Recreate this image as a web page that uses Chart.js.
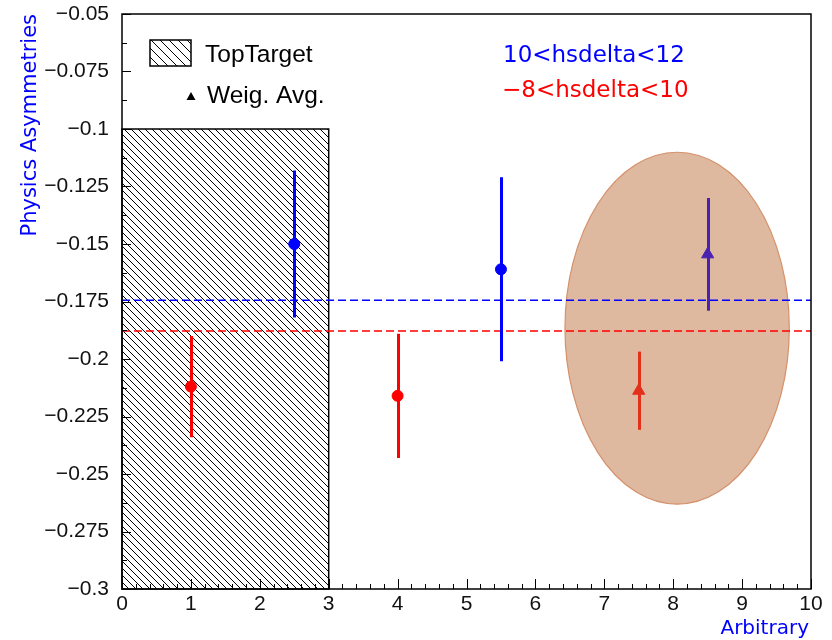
<!DOCTYPE html>
<html>
<head>
<meta charset="utf-8">
<script src="https://cdn.jsdelivr.net/npm/chart.js@4.4.0/dist/chart.umd.min.js"></script>
<style>
  body { margin: 0; background: #fff; }
  canvas { display: block; }
</style>
</head>
<body>
<canvas id="asym-chart" width="832" height="640"></canvas>
<script>
// measurements: 10<hsdelta<12 (blue) and -8<hsdelta<10 (red)
const blueX = [2.5, 5.5];
const blueY = [-0.150, -0.161];
const blueErr = [0.032, 0.040];

const redX = [1, 4];
const redY = [-0.212, -0.216];
const redErr = [0.022, 0.027];

// weighted averages
const avgX = [8.5, 7.5];
const avgY = [-0.1545, -0.2138];
const avgErr = [0.0245, 0.017];

// reference levels
const blueLevel = -0.1745;
const redLevel = -0.1878;

// TopTarget region and the highlight ellipse
const targetX = [0, 3];
const targetY = [-0.3, -0.1];
const ellipseC = [8.057, -0.1866];
const ellipseR = [1.628, 0.0765];

const xTicks = [0, 1, 2, 3, 4, 5, 6, 7, 8, 9, 10];
const yTicks = [-0.3, -0.275, -0.25, -0.225, -0.2, -0.175, -0.15, -0.125, -0.1, -0.075, -0.05];

const BLUE = "#0000ff";
const RED = "#ff0000";
const AVG_BLUE = "#4a22b0";
const AVG_RED = "#e2301a";

const ctxEl = document.getElementById("asym-chart");

const toPts = (xs, ys) => xs.map((x, i) => ({ x: x, y: ys[i] }));
const level = (v) => [{ x: xTicks[0], y: v }, { x: xTicks[xTicks.length - 1], y: v }];

function hatch(ctx, left, top, w, h, step) {
  ctx.save();
  ctx.beginPath();
  ctx.rect(left, top, w, h);
  ctx.clip();
  ctx.strokeStyle = "#000";
  ctx.lineWidth = 1;
  ctx.beginPath();
  for (let s = left - h; s < left + w; s += step) {
    ctx.moveTo(s, top);
    ctx.lineTo(s + h, top + h);
  }
  ctx.stroke();
  ctx.restore();
  ctx.strokeStyle = "#000";
  ctx.lineWidth = 1.5;
  ctx.strokeRect(left, top, w, h);
}

function errBars(ctx, x, y, xs, ys, errs, color) {
  ctx.strokeStyle = color;
  ctx.lineWidth = 3;
  ctx.beginPath();
  xs.forEach((v, i) => {
    const px = Math.round(x.getPixelForValue(v)) + 0.5;
    ctx.moveTo(px, y.getPixelForValue(ys[i] + errs[i]));
    ctx.lineTo(px, y.getPixelForValue(ys[i] - errs[i]));
  });
  ctx.stroke();
}

const decorations = {
  id: "decorations",
  beforeDatasetsDraw(chart) {
    const { ctx, scales: { x, y } } = chart;
    ctx.save();
    // hatched TopTarget box
    const l = x.getPixelForValue(targetX[0]), r = x.getPixelForValue(targetX[1]);
    const t = y.getPixelForValue(targetY[1]), b = y.getPixelForValue(targetY[0]);
    hatch(ctx, l, t, r - l, b - t, 7);

    // ellipse
    const cx = x.getPixelForValue(ellipseC[0]);
    const cy = y.getPixelForValue(ellipseC[1]);
    const rx = x.getPixelForValue(ellipseC[0] + ellipseR[0]) - cx;
    const ry = cy - y.getPixelForValue(ellipseC[1] + ellipseR[1]);
    ctx.beginPath();
    ctx.ellipse(cx, cy, rx, ry, 0, 0, Math.PI * 2);
    ctx.fillStyle = "#dfb8a0";
    ctx.fill();
    ctx.strokeStyle = "#d4916a";
    ctx.lineWidth = 1.2;
    ctx.stroke();
    ctx.restore();
  },
  afterDatasetsDraw(chart) {
    const { ctx, scales: { x, y } } = chart;
    ctx.save();
    errBars(ctx, x, y, blueX, blueY, blueErr, BLUE);
    errBars(ctx, x, y, redX, redY, redErr, RED);
    errBars(ctx, x, y, [avgX[0]], [avgY[0]], [avgErr[0]], AVG_BLUE);
    errBars(ctx, x, y, [avgX[1]], [avgY[1]], [avgErr[1]], AVG_RED);
    ctx.restore();
  },
  afterDraw(chart) {
    const { ctx, chartArea: a, scales: { x, y } } = chart;
    ctx.save();
    // frame
    ctx.strokeStyle = "#000";
    ctx.lineWidth = 1.5;
    ctx.strokeRect(a.left, a.top, a.right - a.left, a.bottom - a.top);

    // inward ticks
    ctx.lineWidth = 1;
    ctx.beginPath();
    for (let i = 0; i <= 50; i++) {
      const px = Math.round(x.getPixelForValue(i * 0.2)) + 0.5;
      const len = i % 5 === 0 ? 10 : 5;
      ctx.moveTo(px, a.bottom);
      ctx.lineTo(px, a.bottom - len);
    }
    for (let i = 0; i <= 20; i++) {
      const py = Math.round(y.getPixelForValue(-0.3 + i * 0.0125)) + 0.5;
      const len = i % 2 === 0 ? 9 : 5;
      ctx.moveTo(a.left, py);
      ctx.lineTo(a.left + len, py);
    }
    ctx.stroke();

    // legend
    hatch(ctx, 150, 40, 41, 26, 9);
    ctx.fillStyle = "#000";
    ctx.font = "24.5px 'Liberation Sans'";
    ctx.textBaseline = "alphabetic";
    ctx.fillText("TopTarget", 205, 62);
    ctx.fillText("Weig. Avg.", 207, 103);
    ctx.beginPath();
    ctx.moveTo(191, 92);
    ctx.lineTo(195.5, 100);
    ctx.lineTo(186.5, 100);
    ctx.closePath();
    ctx.fill();

    ctx.font = "23px 'DejaVu Sans'";
    ctx.fillStyle = BLUE;
    ctx.fillText("10<hsdelta<12", 503, 62);
    ctx.fillStyle = RED;
    ctx.fillText("\u22128<hsdelta<10", 502, 97);

    // axis titles
    ctx.font = "20px 'DejaVu Sans'";
    ctx.fillStyle = BLUE;
    ctx.textAlign = "right";
    ctx.fillText("Arbitrary", 809, 634);
    ctx.font = "21px 'DejaVu Sans'";
    ctx.translate(36, 14);
    ctx.rotate(-Math.PI / 2);
    ctx.fillText("Physics Asymmetries", 0, 0);
    ctx.restore();
  }
};

const asymConf = {
  type: "scatter",
  data: {
    datasets: [
      {
        type: "line", data: level(blueLevel), borderColor: BLUE, borderWidth: 1.5,
        borderDash: [8, 4], pointRadius: 0, fill: false
      },
      {
        type: "line", data: level(redLevel), borderColor: RED, borderWidth: 1.5,
        borderDash: [8, 4], pointRadius: 0, fill: false
      },
      {
        data: toPts(blueX, blueY), pointStyle: "circle", pointRadius: 5.5,
        backgroundColor: BLUE, borderColor: BLUE, borderWidth: 1
      },
      {
        data: toPts(redX, redY), pointStyle: "circle", pointRadius: 5.5,
        backgroundColor: RED, borderColor: RED, borderWidth: 1
      },
      {
        data: toPts([avgX[0]], [avgY[0]]), pointStyle: "triangle", pointRadius: 7,
        backgroundColor: AVG_BLUE, borderColor: AVG_BLUE, borderWidth: 1
      },
      {
        data: toPts([avgX[1]], [avgY[1]]), pointStyle: "triangle", pointRadius: 7,
        backgroundColor: AVG_RED, borderColor: AVG_RED, borderWidth: 1
      }
    ]
  },
  options: {
    responsive: false,
    animation: false,
    events: [],
    layout: { padding: { top: 14, right: 21, left: 0, bottom: 0 } },
    plugins: { legend: { display: false }, tooltip: { enabled: false } },
    scales: {
      x: {
        type: "linear",
        min: xTicks[0],
        max: xTicks[xTicks.length - 1],
        grid: { display: false, drawTicks: false },
        border: { display: false },
        afterFit: (s) => { s.height = 51; },
        afterBuildTicks: (s) => { s.ticks = xTicks.map(v => ({ value: v })); },
        ticks: {
          autoSkip: false,
          maxRotation: 0,
          padding: 3,
          color: "#111",
          font: { family: "'Liberation Sans'", size: 21 },
          callback: (v) => String(v)
        }
      },
      y: {
        type: "linear",
        min: yTicks[0],
        max: yTicks[yTicks.length - 1],
        grid: { display: false, drawTicks: false },
        border: { display: false },
        afterFit: (s) => { s.width = 122; },
        afterBuildTicks: (s) => { s.ticks = yTicks.map(v => ({ value: v })); },
        ticks: {
          autoSkip: false,
          padding: 13,
          color: "#111",
          // small line height keeps the top label from pushing the plot area down
          font: { family: "'Liberation Sans'", size: 21, lineHeight: 0.05 },
          callback: (v) => "\u2212" + String(parseFloat(Math.abs(v).toFixed(3)))
        }
      }
    }
  },
  plugins: [decorations]
};

var asymChart = new Chart(ctxEl, asymConf);
</script>
</body>
</html>
